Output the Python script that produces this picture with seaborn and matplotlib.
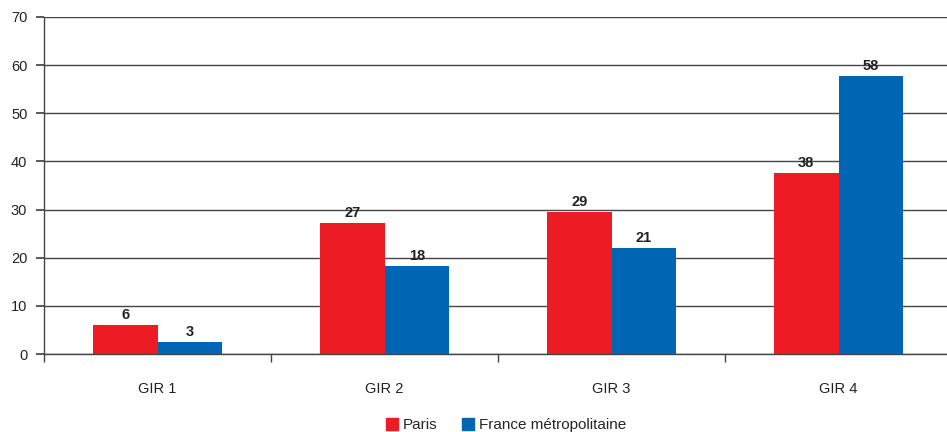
import matplotlib
matplotlib.use("Agg")
import matplotlib.pyplot as plt
import seaborn as sns
import pandas as pd

categories = ["GIR 1", "GIR 2", "GIR 3", "GIR 4"]
series = ["Paris", "France métropolitaine"]
paris = [6.0, 27.2, 29.5, 37.7]
france = [2.5, 18.3, 22.0, 57.7]
paris_labels = ["6", "27", "29", "38"]
france_labels = ["3", "18", "21", "58"]
yticks = [0, 10, 20, 30, 40, 50, 60, 70]

df = pd.DataFrame({
    "cat": categories * 2,
    "serie": [series[0]] * 4 + [series[1]] * 4,
    "val": paris + france,
})

sns.set_theme(style="white")
plt.rcParams["font.family"] = ["Liberation Sans Narrow", "Liberation Sans", "DejaVu Sans"]

fig = plt.figure(figsize=(9.47, 4.32), dpi=100)
ax = fig.add_axes([44 / 947, 1 - 354 / 432, 908 / 947, 337 / 432])

sns.barplot(data=df, x="cat", y="val", hue="serie", order=categories,
            hue_order=series, palette=["#ED1C24", "#0066B3"], width=0.57,
            saturation=1, ax=ax, legend=True, linewidth=0, edgecolor="none")

for cont, labs in zip(ax.containers, [paris_labels, france_labels]):
    ax.bar_label(cont, labels=labs, padding=2, fontsize=10.5, fontweight="bold",
                 color="#222222")

ax.set_xlim(-0.5, 3.5)
ax.set_ylim(0, 70)
ax.set_yticks(yticks)
ax.yaxis.grid(True, color="#444444", linewidth=1)
ax.set_axisbelow(True)
ax.set_xlabel("")
ax.set_ylabel("")
for s in ["top", "right"]:
    ax.spines[s].set_visible(False)
for s in ["left", "bottom"]:
    ax.spines[s].set_color("#444444")
    ax.spines[s].set_linewidth(1)

ax.tick_params(axis="y", which="major", left=True, length=6, color="#444444",
               labelsize=10.5, labelcolor="#222222", pad=6)
ax.set_xticks([-0.5, 0.5, 1.5, 2.5, 3.5], minor=True)
ax.tick_params(axis="x", which="minor", bottom=True, length=6, color="#444444")
ax.tick_params(axis="x", which="major", bottom=False, length=0, labelsize=10.5,
               labelcolor="#222222", pad=20)

ax.get_legend().remove()
handles = [plt.Rectangle((0, 0), 1, 1, color=c) for c in ["#ED1C24", "#0066B3"]]
fig.legend(handles, series, loc="center", bbox_to_anchor=(506 / 947, 1 - 425 / 432),
           ncol=2, frameon=False, fontsize=11, handlelength=0.8, handleheight=0.9,
           handletextpad=0.3, columnspacing=1.6, borderaxespad=0, borderpad=0)

fig.savefig("out.png", dpi=100)
